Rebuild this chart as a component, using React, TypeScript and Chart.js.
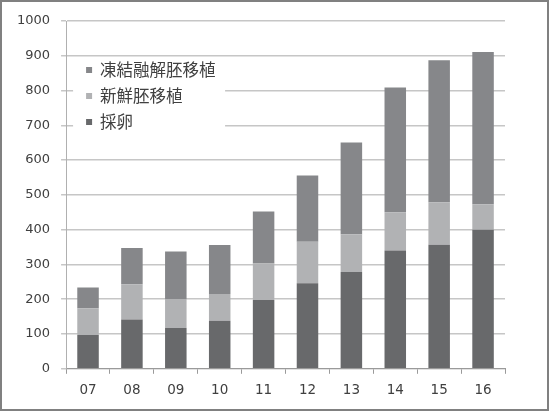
import { useEffect, useRef } from 'react';
import Chart from 'chart.js/auto';

const years = ['07', '08', '09', '10', '11', '12', '13', '14', '15', '16'];
const eggRetrieval = [97, 142, 117, 138, 198, 246, 278, 340, 357, 400];
const freshTransfer = [77, 101, 84, 77, 105, 119, 109, 110, 122, 73];
const frozenTransfer = [60, 104, 136, 141, 149, 191, 264, 359, 408, 438];
const yTicks = [0, 100, 200, 300, 400, 500, 600, 700, 800, 900, 1000];

const seriesNames = ['採卵', '新鮮胚移植', '凍結融解胚移植'];
const seriesColors = ['#68696b', '#b1b2b4', '#86878a'];

const TEXT = '#404040';
const GRID = '#c6c6c6';

// legend sits inside the plot, on a white box that hides the grid lines
const insideLegend = {
  id: 'insideLegend',
  beforeDatasetsDraw(chart: any) {
    const { ctx, chartArea, data } = chart;
    const left = chartArea.left;
    const top = chartArea.top;
    ctx.save();
    ctx.fillStyle = '#ffffff';
    ctx.fillRect(left + 7, top + 37, 152, 75);
    const sets = [...data.datasets].reverse();
    ctx.font = '16.5px "Noto Sans CJK JP"';
    ctx.textBaseline = 'middle';
    sets.forEach((ds: any, i: number) => {
      const cy = top + 49 + i * 26;
      ctx.fillStyle = ds.backgroundColor;
      ctx.fillRect(left + 20, cy - 3, 6, 6);
      ctx.fillStyle = TEXT;
      ctx.fillText(ds.label, left + 34, cy);
    });
    ctx.restore();
  },
};

export default function App() {
  const canvasRef = useRef<HTMLCanvasElement>(null);
  const chartRef = useRef<Chart | null>(null);

  useEffect(() => {
    if (!canvasRef.current) return;
    if (chartRef.current) chartRef.current.destroy();

    const values = [eggRetrieval, freshTransfer, frozenTransfer];

    chartRef.current = new Chart(canvasRef.current, {
      type: 'bar',
      data: {
        labels: years,
        datasets: values.map((v, i) => ({
          label: seriesNames[i],
          data: v,
          backgroundColor: seriesColors[i],
          borderWidth: 0,
          categoryPercentage: 1,
          barPercentage: 0.49,
        })),
      },
      options: {
        animation: false,
        responsive: false,
        maintainAspectRatio: false,
        layout: {
          padding: { left: 4, right: 42, top: 19, bottom: 1 },
        },
        plugins: {
          legend: { display: false },
          tooltip: { enabled: false },
        },
        scales: {
          x: {
            stacked: true,
            grid: {
              offset: true,
              drawOnChartArea: false,
              drawTicks: true,
              tickLength: 5,
              color: '#9a9a9a',
            },
            border: { color: '#9a9a9a' },
            ticks: {
              color: TEXT,
              padding: 9,
              font: { family: '"DejaVu Sans"', size: 13.5 },
            },
          },
          y: {
            stacked: true,
            min: 0,
            max: 1000,
            afterBuildTicks: (axis: any) => {
              axis.ticks = yTicks.map((value) => ({ value }));
            },
            grid: {
              color: GRID,
              lineWidth: 1.5,
              drawTicks: true,
              tickLength: 5,
            },
            border: { color: '#b0b0b0' },
            ticks: {
              color: TEXT,
              padding: 11,
              font: { family: '"DejaVu Sans"', size: 13 },
              callback: (value: any) => String(value),
            },
          },
        },
      },
      plugins: [insideLegend],
    });

    return () => {
      if (chartRef.current) {
        chartRef.current.destroy();
        chartRef.current = null;
      }
    };
  }, []);

  return (
    <div
      style={{
        position: 'absolute',
        left: 0,
        top: 0,
        width: 549,
        height: 411,
        boxSizing: 'border-box',
        border: '2px solid #808080',
        background: '#fff',
      }}
    >
      <canvas ref={canvasRef} width={545} height={407} style={{ display: 'block' }} />
    </div>
  );
}
